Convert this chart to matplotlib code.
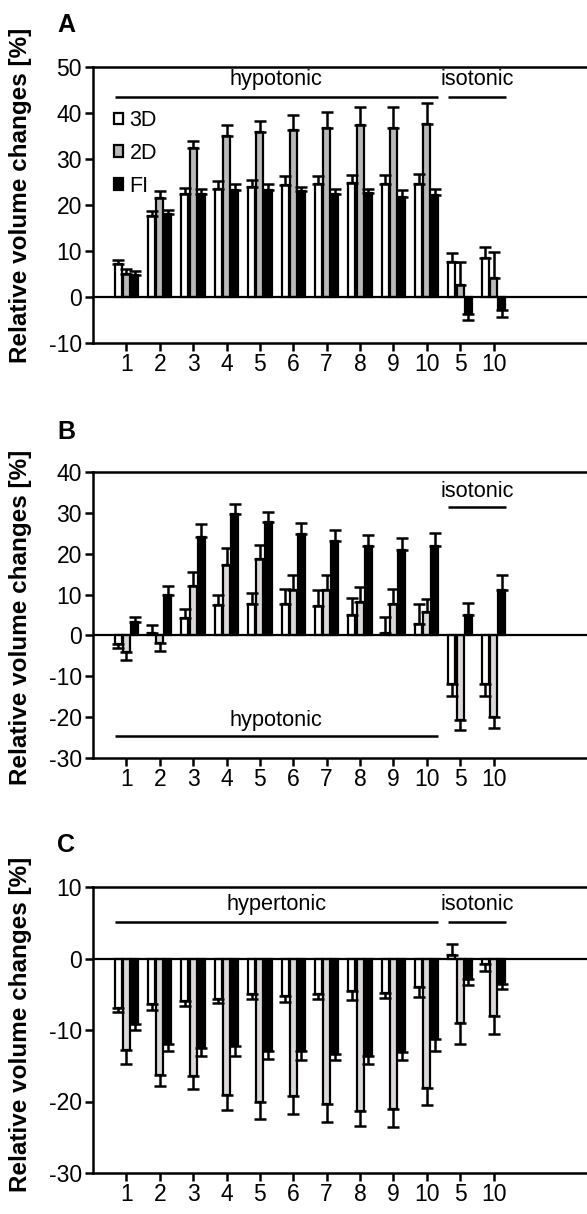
import matplotlib
matplotlib.use("Agg")
import matplotlib.pyplot as plt
import numpy as np

plt.rcParams['font.family'] = ['Liberation Sans', 'DejaVu Sans']

tick_labels = ['1', '2', '3', '4', '5', '6', '7', '8', '9', '10', '5', '10']
series = ['3D', '2D', 'FI']

# Panel A
a_3d = [7.2, 17.5, 22.3, 23.5, 24.0, 24.3, 24.5, 24.8, 24.5, 24.5, 7.5, 8.5]
a_3d_sem = [0.8, 1.1, 1.3, 1.7, 1.5, 1.9, 1.8, 1.7, 2.0, 2.3, 2.0, 2.3]
a_2d = [5.0, 21.6, 32.3, 35.0, 35.8, 36.2, 36.7, 37.3, 36.8, 37.7, 2.7, 4.2]
a_2d_sem = [1.0, 1.4, 1.7, 2.3, 2.5, 3.3, 3.5, 4.0, 4.5, 4.4, 4.8, 5.6]
a_fi = [4.8, 18.0, 22.3, 23.3, 23.3, 23.0, 22.3, 22.5, 21.8, 22.2, -3.6, -2.8]
a_fi_sem = [0.8, 1.0, 1.2, 1.2, 1.2, 1.0, 1.2, 1.0, 1.4, 1.3, 1.4, 1.5]

# Panel B
b_3d = [-2.2, 0.5, 4.3, 7.5, 7.8, 7.6, 7.3, 5.1, 0.6, 2.9, -11.9, -11.9]
b_3d_sem = [0.8, 2.0, 2.2, 2.3, 2.6, 3.7, 3.7, 4.0, 4.0, 4.9, 2.9, 3.0]
b_2d = [-4.0, -1.8, 12.0, 17.2, 18.6, 11.0, 11.1, 8.1, 7.6, 5.8, -20.6, -20.0]
b_2d_sem = [1.9, 2.1, 3.6, 4.1, 3.6, 3.8, 3.7, 3.7, 3.7, 3.2, 2.5, 2.6]
b_fi = [3.3, 10.0, 24.0, 29.7, 27.7, 24.9, 23.2, 21.9, 20.9, 21.8, 5.1, 11.2]
b_fi_sem = [1.3, 2.0, 3.2, 2.5, 2.4, 2.5, 2.7, 2.6, 2.9, 3.2, 2.9, 3.6]

# Panel C
c_3d = [-6.9, -6.3, -5.9, -5.6, -5.0, -5.2, -5.0, -4.5, -4.8, -4.0, 0.5, -0.7]
c_3d_sem = [0.6, 0.9, 0.8, 0.6, 0.7, 0.9, 0.6, 1.3, 0.7, 1.4, 1.5, 1.1]
c_2d = [-12.8, -16.3, -16.5, -19.1, -20.0, -19.3, -20.3, -21.3, -21.1, -18.1, -9.0, -8.0]
c_2d_sem = [1.9, 1.5, 1.8, 2.1, 2.4, 2.4, 2.5, 2.1, 2.4, 2.4, 2.9, 2.6]
c_fi = [-9.1, -12.0, -12.5, -12.3, -13.0, -12.9, -13.3, -13.6, -13.1, -11.2, -2.8, -3.5]
c_fi_sem = [0.9, 1.0, 1.2, 1.3, 1.1, 1.3, 0.9, 1.2, 1.1, 1.7, 0.9, 0.8]

fig = plt.figure(figsize=(5.87, 12.14), dpi=100)

W = 587.0
H = 1214.0
left_px = 93


def make_ax(top_px, bottom_px):
    return fig.add_axes([left_px / W, 1 - bottom_px / H, 1 - left_px / W,
                         (bottom_px - top_px) / H])


def draw_panel(ax, data, sems, colors, ylim, yticks, label_y):
    x = np.arange(1, len(tick_labels) + 1)
    offs = [-0.245, 0.0, 0.245]
    w = 0.21
    for vals, sem, col, off, name in zip(data, sems, colors, offs, series):
        vals = np.array(vals)
        sem = np.array(sem)
        lower = np.where(vals < 0, sem, 0)
        upper = np.where(vals >= 0, sem, 0)
        ax.bar(x + off, vals, width=w, color=col, edgecolor='black',
               linewidth=1.6, label=name, zorder=3)
        ax.errorbar(x + off, vals, yerr=[lower, upper], fmt='none',
                    ecolor='black', elinewidth=1.8, capsize=4.5,
                    capthick=1.8, zorder=4)
    ax.axhline(0, color='black', linewidth=1.6, zorder=5)
    ax.set_xlim(0, 14.8)
    ax.set_ylim(*ylim)
    ax.set_yticks(yticks)
    ax.set_yticklabels([str(t) for t in yticks])
    ax.set_xticks(x)
    ax.set_xticklabels(tick_labels)
    ax.spines['right'].set_visible(False)
    for s in ['left', 'bottom', 'top']:
        ax.spines[s].set_linewidth(1.8)
    ax.tick_params(axis='both', direction='out', length=6, width=1.8,
                   labelsize=16.5, pad=2)
    ax.tick_params(axis='x', pad=1)
    ax.set_ylabel('Relative volume changes [%]', fontsize=17.5,
                  fontweight='bold')
    ax.yaxis.set_label_coords(-61 / (W - left_px), label_y)


def bracket(ax, x0, x1, y, text, ty):
    ax.plot([x0, x1], [y, y], color='black', linewidth=1.8,
            solid_capstyle='butt', zorder=6)
    ax.text((x0 + x1) / 2, ty, text, ha='center', va='center',
            fontsize=15.7, zorder=6)


# Panel A
axA = make_ax(67, 343)
draw_panel(axA, [a_3d, a_2d, a_fi], [a_3d_sem, a_2d_sem, a_fi_sem],
           ['white', '#b9b9b9', 'black'], (-10, 50), [-10, 0, 10, 20, 30, 40, 50],
           0.535)
bracket(axA, 0.66, 10.33, 43.4, 'hypotonic', 47.2)
bracket(axA, 10.63, 12.37, 43.4, 'isotonic', 47.2)
leg = axA.legend(loc='upper left', bbox_to_anchor=(0.025, 0.875), frameon=False,
                 fontsize=15.5, handlelength=0.42, handleheight=0.45,
                 handletextpad=0.3, labelspacing=0.55, borderaxespad=0)

# Panel B
axB = make_ax(472, 758)
draw_panel(axB, [b_3d, b_2d, b_fi], [b_3d_sem, b_2d_sem, b_fi_sem],
           ['white', '#dcd8d8', 'black'], (-30, 40), [-30, -20, -10, 0, 10, 20, 30, 40],
           0.49)
bracket(axB, 0.66, 10.33, -24.7, 'hypotonic', -20.8)
bracket(axB, 10.63, 12.37, 31.5, 'isotonic', 35.2)

# Panel C
axC = make_ax(887, 1173)
draw_panel(axC, [c_3d, c_2d, c_fi], [c_3d_sem, c_2d_sem, c_fi_sem],
           ['white', '#dcd8d8', 'black'], (-30, 10), [-30, -20, -10, 0, 10],
           0.52)
bracket(axC, 0.66, 10.33, 5.1, 'hypertonic', 7.5)
bracket(axC, 10.63, 12.37, 5.1, 'isotonic', 7.5)

for letter, ypx in [('A', 25), ('B', 432), ('C', 845)]:
    fig.text(57 / W, 1 - ypx / H, letter, fontsize=18, fontweight='bold',
             ha='left', va='center')

fig.savefig('out.png', dpi=100)
